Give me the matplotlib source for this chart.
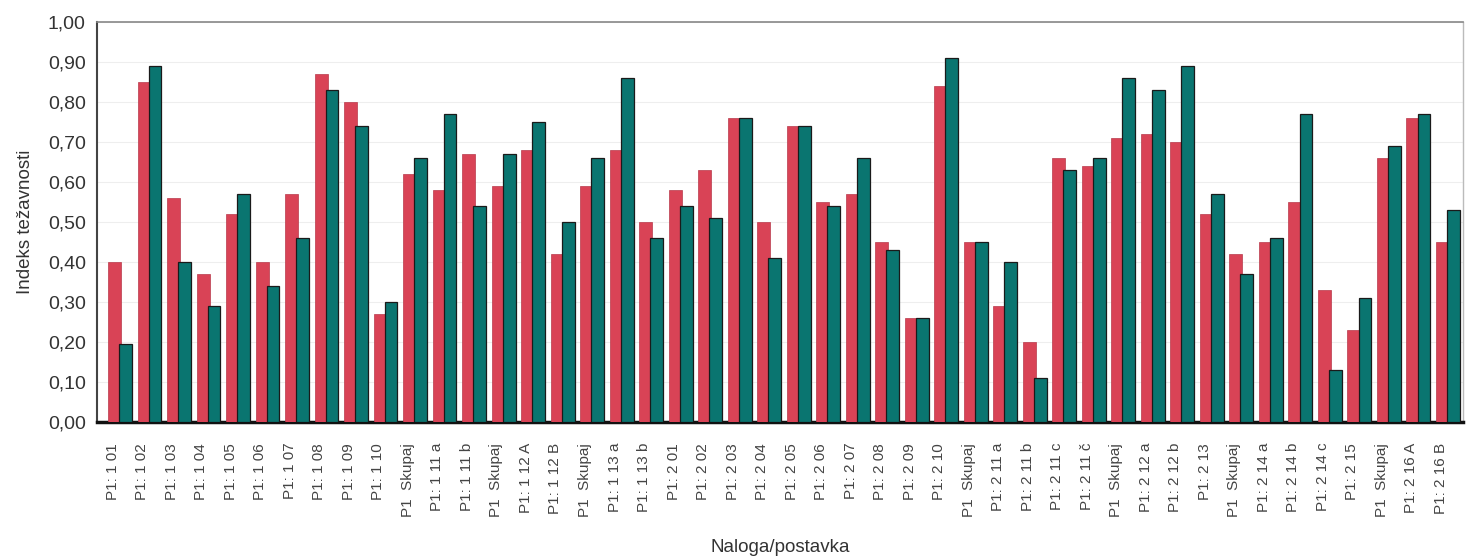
import matplotlib
matplotlib.use("Agg")
import matplotlib.pyplot as plt
import numpy as np

plt.rcParams['font.family'] = ['Liberation Sans', 'DejaVu Sans']

labels = ["P1: 1 01", "P1: 1 02", "P1: 1 03", "P1: 1 04", "P1: 1 05", "P1: 1 06",
          "P1: 1 07", "P1: 1 08", "P1: 1 09", "P1: 1 10", "P1  Skupaj", "P1: 1 11 a",
          "P1: 1 11 b", "P1  Skupaj", "P1: 1 12 A", "P1: 1 12 B", "P1  Skupaj",
          "P1: 1 13 a", "P1: 1 13 b", "P1: 2 01", "P1: 2 02", "P1: 2 03", "P1: 2 04",
          "P1: 2 05", "P1: 2 06", "P1: 2 07", "P1: 2 08", "P1: 2 09", "P1: 2 10",
          "P1  Skupaj", "P1: 2 11 a", "P1: 2 11 b", "P1: 2 11 c", "P1: 2 11 č",
          "P1  Skupaj", "P1: 2 12 a", "P1: 2 12 b", "P1: 2 13", "P1  Skupaj",
          "P1: 2 14 a", "P1: 2 14 b", "P1: 2 14 c", "P1: 2 15", "P1  Skupaj",
          "P1: 2 16 A", "P1: 2 16 B"]

red_vals = [0.40, 0.85, 0.56, 0.37, 0.52, 0.40, 0.57, 0.87, 0.80, 0.27, 0.62, 0.58,
            0.67, 0.59, 0.68, 0.42, 0.59, 0.68, 0.50, 0.58, 0.63, 0.76, 0.50, 0.74,
            0.55, 0.57, 0.45, 0.26, 0.84, 0.45, 0.29, 0.20, 0.66, 0.64, 0.71, 0.72,
            0.70, 0.52, 0.42, 0.45, 0.55, 0.33, 0.23, 0.66, 0.76, 0.45]

teal_vals = [0.195, 0.89, 0.40, 0.29, 0.57, 0.34, 0.46, 0.83, 0.74, 0.30, 0.66, 0.77,
             0.54, 0.67, 0.75, 0.50, 0.66, 0.86, 0.46, 0.54, 0.51, 0.76, 0.41, 0.74,
             0.54, 0.66, 0.43, 0.26, 0.91, 0.45, 0.40, 0.11, 0.63, 0.66, 0.86, 0.83,
             0.89, 0.57, 0.37, 0.46, 0.77, 0.13, 0.31, 0.69, 0.77, 0.53]

x = np.arange(len(labels))

fig = plt.figure(figsize=(14.69, 5.58), dpi=100)
ax = fig.add_axes([0.066, 0.2437, 0.93, 0.717])

# red first, teal drawn on top and slightly overlapping like the scan
ax.bar(x + 0.06, red_vals, width=0.44, color='#d94356', edgecolor='#b8394a',
       linewidth=0.5, zorder=3)
ax.bar(x + 0.43, teal_vals, width=0.43, color='#0a7570', edgecolor='#1a1a1a',
       linewidth=0.9, zorder=4)

ax.set_xlim(-0.54, 45.76)
ax.set_ylim(0, 1.0)
yt = np.arange(0, 1.01, 0.1)
ax.set_yticks(yt)
ax.set_yticklabels([f"{v:.2f}".replace('.', ',') for v in yt], fontsize=14, color='#333333')
ax.set_xticks(x)
ax.set_xticklabels(labels, rotation=90, fontsize=11, color='#444444')
ax.tick_params(axis='x', length=0, pad=15)
ax.tick_params(axis='y', length=0, pad=8)

ax.grid(axis='y', color='#eeeeee', linewidth=0.8, zorder=0)

ax.spines['bottom'].set_linewidth(2.5)
ax.spines['bottom'].set_color('#111111')
ax.spines['left'].set_linewidth(1.5)
ax.spines['left'].set_color('#444444')
ax.spines['top'].set_color('#888888')
ax.spines['top'].set_linewidth(1.2)
ax.spines['right'].set_color('#bbbbbb')
ax.spines['right'].set_linewidth(1.0)

ax.set_ylabel("Indeks težavnosti", fontsize=13.5, color='#333333', labelpad=10)
ax.set_xlabel("Naloga/postavka", fontsize=13.5, color='#333333', labelpad=16)

fig.savefig("out.png", dpi=100)
